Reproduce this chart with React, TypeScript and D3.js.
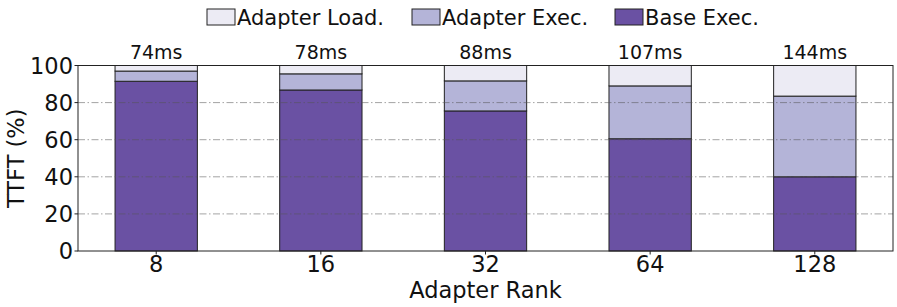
import React from "react";
import * as d3 from "d3";

// data
const ranks = ["8", "16", "32", "64", "128"];
const baseExec = [91.5, 86.8, 75.5, 60.5, 40.0];
const adapterExec = [5.5, 8.7, 16.2, 28.5, 43.5];
const adapterLoad = [3.0, 4.5, 8.3, 11.0, 16.5];
const latencyLabels = ["74ms", "78ms", "88ms", "107ms", "144ms"];
const yTicks = [0, 20, 40, 60, 80, 100];

const seriesNames = ["Base Exec.", "Adapter Exec.", "Adapter Load."];
const seriesColors = ["#6a51a3", "#b4b4d8", "#ecebf4"];

const W = 897,
  H = 307;
const margin = { left: 78, right: 4, top: 65.5, bottom: 56 };
const font = "DejaVu Sans, sans-serif";

export default function App() {
  const x = d3
    .scaleLinear()
    .domain([-0.475, ranks.length - 1 + 0.475])
    .range([margin.left, W - margin.right]);
  const y = d3
    .scaleLinear()
    .domain([0, 100])
    .range([H - margin.bottom, margin.top]);

  const rows = ranks.map((r, i) => ({
    rank: r,
    i,
    "Base Exec.": baseExec[i],
    "Adapter Exec.": adapterExec[i],
    "Adapter Load.": adapterLoad[i],
  }));
  const stack = d3.stack<any>().keys(seriesNames)(rows);
  const barW = x(0.5) - x(0);

  const legendItems = [
    { name: "Adapter Load.", color: seriesColors[2], x: 207 },
    { name: "Adapter Exec.", color: seriesColors[1], x: 412 },
    { name: "Base Exec.", color: seriesColors[0], x: 615 },
  ];

  return (
    <svg
      width={W}
      height={H}
      style={{ position: "absolute", left: 0, top: 0 }}
      fontFamily={font}
    >
      <rect width={W} height={H} fill="white" />
      {/* bars */}
      {stack.map((s, si) =>
        s.map((d, i) => (
          <rect
            key={si + "-" + i}
            x={x(i) - barW / 2}
            y={y(Math.min(d[1], 100))}
            width={barW}
            height={y(d[0]) - y(Math.min(d[1], 100))}
            fill={seriesColors[si]}
            stroke="#222"
            strokeWidth={1}
          />
        ))
      )}
      {/* grid */}
      {yTicks.slice(1).map((t) => (
        <line
          key={t}
          x1={margin.left}
          x2={W - margin.right}
          y1={y(t)}
          y2={y(t)}
          stroke="#555"
          strokeOpacity={0.6}
          strokeWidth={0.9}
          strokeDasharray="7,2.5,1.5,2.5"
        />
      ))}
      {/* frame */}
      <rect
        x={margin.left}
        y={margin.top}
        width={W - margin.right - margin.left}
        height={H - margin.bottom - margin.top}
        fill="none"
        stroke="#222"
        strokeWidth={1}
      />
      {/* y ticks */}
      {yTicks.map((t) => (
        <g key={t}>
          <line x1={margin.left - 3.5} x2={margin.left} y1={y(t)} y2={y(t)} stroke="#222" />
          <text
            x={margin.left - 5}
            y={y(t)}
            dy="0.36em"
            textAnchor="end"
            fontSize={22.5}
            fill="#111"
          >
            {t}
          </text>
        </g>
      ))}
      {/* x ticks */}
      {ranks.map((r, i) => (
        <g key={r}>
          <line
            x1={x(i)}
            x2={x(i)}
            y1={H - margin.bottom}
            y2={H - margin.bottom + 3.5}
            stroke="#222"
          />
          <text
            x={x(i)}
            y={272}
            textAnchor="middle"
            fontSize={22.5}
            fill="#111"
          >
            {r}
          </text>
          <text
            x={x(i)}
            y={margin.top - 7}
            textAnchor="middle"
            fontSize={19}
            fill="#111"
          >
            {latencyLabels[i]}
          </text>
        </g>
      ))}
      {/* axis labels */}
      <text
        x={(margin.left + W - margin.right) / 2}
        y={298}
        textAnchor="middle"
        fontSize={22.5}
        fill="#111"
      >
        Adapter Rank
      </text>
      <text
        transform={`translate(24, ${(margin.top + H - margin.bottom) / 2}) rotate(-90)`}
        textAnchor="middle"
        fontSize={22.5}
        fill="#111"
      >
        TTFT (%)
      </text>
      {/* legend */}
      {legendItems.map((l) => (
        <g key={l.name}>
          <rect x={l.x} y={9} width={28} height={16} fill={l.color} stroke="#222" strokeWidth={1} />
          <text x={l.x + 30} y={24.5} fontSize={21} fill="#111">
            {l.name}
          </text>
        </g>
      ))}
    </svg>
  );
}
